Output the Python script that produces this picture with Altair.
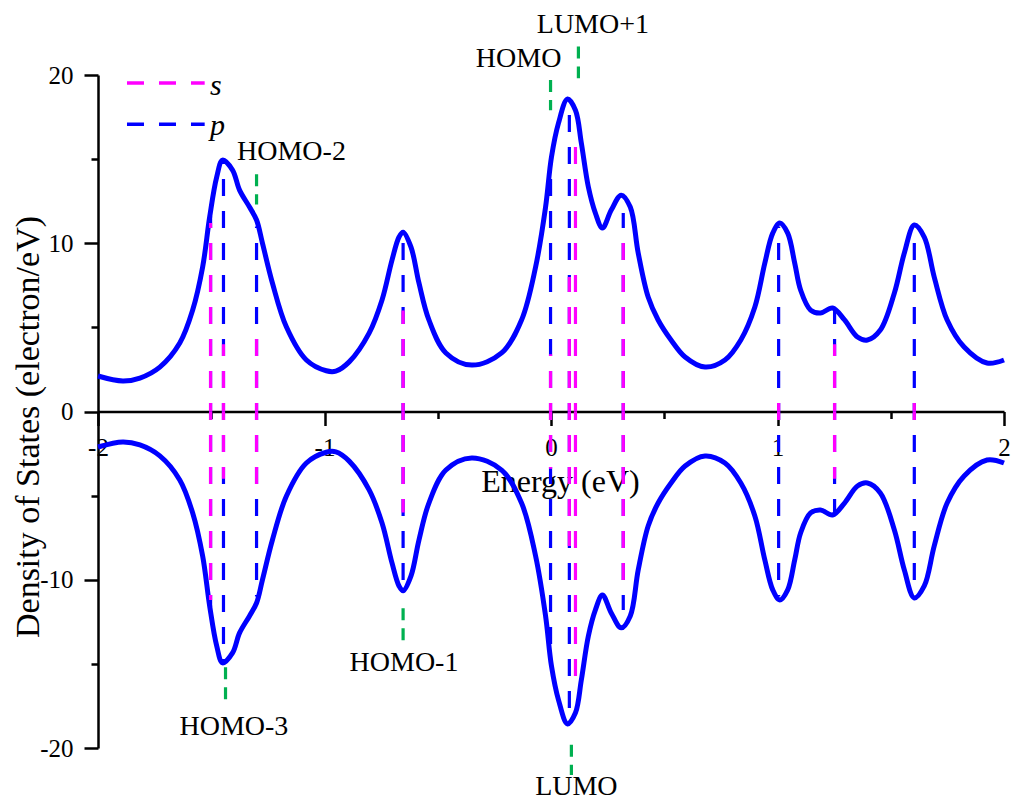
import altair as alt
import pandas as pd

# ---------------- data ----------------
energy = [-2.0, -1.89, -1.815, -1.727, -1.639, -1.582, -1.538, -1.507, -1.476, -1.45,
          -1.406, -1.375, -1.331, -1.30, -1.274, -1.23, -1.168, -1.08, -0.992, -0.95,
          -0.891, -0.803, -0.746, -0.702, -0.671, -0.653, -0.618, -0.583, -0.539, -0.464,
          -0.35, -0.218, -0.13, -0.068, -0.024, 0.002, 0.033, 0.073, 0.108, 0.134,
          0.165, 0.196, 0.227, 0.266, 0.31, 0.35, 0.385, 0.429, 0.473, 0.53,
          0.592, 0.68, 0.768, 0.838, 0.9, 0.944, 0.979, 1.01, 1.045, 1.076,
          1.102, 1.146, 1.19, 1.243, 1.296, 1.353, 1.397, 1.454, 1.516, 1.56,
          1.604, 1.648, 1.692, 1.749, 1.824, 1.925, 2.0]
dos_up = [2.11, 1.81, 1.99, 2.64, 4.07, 6.03, 8.59, 11.56, 13.93, 14.94,
          14.35, 13.16, 12.15, 11.38, 10.01, 7.64, 5.02, 3.06, 2.42, 2.4,
          2.95, 4.66, 6.63, 9.0, 10.37, 10.66, 9.77, 7.64, 5.44, 3.48,
          2.76, 3.48, 5.44, 8.59, 12.15, 15.12, 17.14, 18.57, 17.91, 15.95,
          13.34, 11.79, 10.9, 11.97, 12.86, 12.15, 9.42, 6.8, 5.44, 4.25,
          3.24, 2.64, 3.06, 4.25, 6.21, 8.82, 10.6, 11.2, 10.6, 8.82,
          7.22, 6.03, 5.85, 6.15, 5.44, 4.43, 4.25, 4.84, 7.04, 9.42,
          11.08, 10.37, 7.99, 5.44, 3.83, 2.88, 3.06]
dos_down = [-2.11, -1.81, -1.99, -2.64, -4.07, -6.03, -8.59, -11.56, -13.93, -14.94,
            -14.35, -13.16, -12.15, -11.38, -10.01, -7.64, -5.02, -3.06, -2.42, -2.4,
            -2.95, -4.66, -6.63, -9.0, -10.37, -10.66, -9.77, -7.64, -5.44, -3.48,
            -2.76, -3.48, -5.44, -8.59, -12.15, -15.12, -17.14, -18.57, -17.91, -15.95,
            -13.34, -11.79, -10.9, -11.97, -12.86, -12.15, -9.42, -6.8, -5.44, -4.25,
            -3.24, -2.64, -3.06, -4.25, -6.21, -8.82, -10.6, -11.2, -10.6, -8.82,
            -7.22, -6.03, -5.85, -6.15, -5.44, -4.43, -4.25, -4.84, -7.04, -9.42,
            -11.08, -10.37, -7.99, -5.44, -3.83, -2.88, -3.06]

# p-orbital sticks
p_energy = [-1.503, -1.446, -1.300, -0.653, -0.002, 0.081, 0.319, 1.005, 1.252, 1.604]
p_up = [11.6, 14.9, 11.0, 10.6, 14.5, 18.2, 11.8, 11.0, 6.1, 10.5]
p_down = [-11.6, -14.9, -11.0, -10.6, -14.5, -18.2, -11.8, -11.0, -6.1, -10.5]
# s-orbital sticks
s_energy = [-1.503, -1.446, -1.300, -0.653, -0.002, 0.081, 0.108, 0.319, 1.005, 1.252, 1.604]
s_up = [11.2, 4.0, 5.0, 6.0, 3.4, 8.0, 16.5, 10.7, 0.6, 4.0, 1.0]
s_down = [-11.2, -4.0, -5.0, -6.0, -3.4, -8.0, -16.5, -10.7, -0.6, -4.0, -1.0]

# orbital markers (green dotted) and their labels
orb_names = ["HOMO-2", "HOMO", "LUMO+1", "HOMO-3", "HOMO-1", "LUMO"]
orb_energy = [-1.300, -0.002, 0.121, -1.437, -0.653, 0.090]
orb_from = [14.1, 19.7, 21.7, -15.2, -11.7, -19.8]
orb_to = [12.3, 17.9, 19.8, -17.4, -13.8, -21.6]
orb_label_x = [-1.146, -0.143, 0.185, -1.40, -0.649, 0.112]
orb_label_y = [15.4, 20.95, 23.0, -18.73, -14.93, -22.3]

# legend
legend_names = ["s", "p"]
legend_colors = ["#ff00ff", "#0000ff"]
legend_y = [19.52, 17.08]
legend_label_y = [18.8, 16.45]
legend_x0 = [-1.872, -1.872]
legend_x1 = [-1.529, -1.529]
legend_label_x = [-1.505, -1.505]

x_major = [-2, -1, 0, 1, 2]
x_minor = [-1.5, -0.5, 0.5, 1.5]
y_major = [-20, -10, 0, 10, 20]
y_minor = [-15, -5, 5, 15]

# ---------------- tables ----------------
n = len(energy)
curve_df = pd.DataFrame({"x": energy + energy, "y": dos_up + dos_down,
                         "spin": ["up"] * n + ["down"] * n})

def stick_table(es, ups, downs):
    m = len(es)
    return pd.DataFrame({"x": es + es, "y": [0.0] * (2 * m), "y1": ups + downs})

p_df = stick_table(p_energy, p_up, p_down)
s_df = stick_table(s_energy, s_up, s_down)
orb_df = pd.DataFrame({"x": orb_energy, "y": orb_from, "y1": orb_to})
orb_lab_df = pd.DataFrame({"x": orb_label_x, "y": orb_label_y, "label": orb_names})
leg_df = pd.DataFrame({"x": legend_x0, "x1": legend_x1, "y": legend_y,
                       "name": legend_names, "color": legend_colors})
leg_lab_df = pd.DataFrame({"x": legend_label_x, "y": legend_label_y, "name": legend_names})
minor_df = pd.DataFrame({"x": x_minor, "y": y_minor})

FONT = "Liberation Serif"
XOFF = -336.5

def xs():
    return alt.Scale(domain=[-2, 2], nice=False, zero=False)

def ys():
    return alt.Scale(domain=[-20, 20], nice=False, zero=False)

x_axis = alt.Axis(
    values=x_major, orient="bottom",
    labelExpr="'' + datum.value",
    tickSize=14, offset=XOFF,
    grid=False, domainColor="black", domainWidth=2.5, tickColor="black", tickWidth=2.5,
    labelFont=FONT, labelFontSize=25, labelColor="black", labelPadding=10,
    labelFlush=False, labelOverlap=False,
    title="Energy (eV)", titleFont=FONT, titleFontSize=32, titleFontWeight="normal",
    titleColor="black", titleX=462, titleY=80, titleBaseline="alphabetic", titleAlign="center",
)
y_axis = alt.Axis(
    values=y_major, orient="left",
    labelExpr="'' + datum.value",
    tickSize=14,
    grid=False, domainColor="black", domainWidth=2.5, tickColor="black", tickWidth=2.5,
    labelFont=FONT, labelFontSize=25, labelColor="black", labelPadding=11,
    labelFlush=False, labelOverlap=False,
    title="Density of States (electron/eV)", titleFont=FONT, titleFontSize=34,
    titleFontWeight="normal", titleColor="black", titleX=-60, titleY=351.5,
    titleBaseline="alphabetic", titleAlign="center", titleAngle=270,
)
x_minor_axis = alt.Axis(
    values=x_minor, orient="bottom", offset=XOFF, labels=False, domain=False,
    tickSize=7, tickColor="black", tickWidth=2.5, grid=False, title=None,
)
y_minor_axis = alt.Axis(
    values=y_minor, orient="left", labels=False, domain=False,
    tickSize=7, tickColor="black", tickWidth=2.5, grid=False, title=None,
)

def X():
    return alt.X("x:Q", scale=xs(), axis=None)

def Y():
    return alt.Y("y:Q", scale=ys(), axis=None)

curve = alt.Chart(curve_df).mark_line(
    color="#0000ff", strokeWidth=5, interpolate="catmull-rom"
).encode(
    x=alt.X("x:Q", scale=xs(), axis=x_axis),
    y=alt.Y("y:Q", scale=ys(), axis=y_axis),
    detail="spin:N",
)

minor_ticks = alt.Chart(minor_df).mark_point(opacity=0).encode(
    x=alt.X("x:Q", scale=xs(), axis=x_minor_axis),
    y=alt.Y("y:Q", scale=ys(), axis=y_minor_axis),
)

DASH = [17, 15]
p_rules = alt.Chart(p_df).mark_rule(
    color="#0000ff", strokeWidth=3.2, strokeDash=DASH, strokeDashOffset=8.5
).encode(x=X(), y=Y(), y2="y1:Q")
s_rules = alt.Chart(s_df).mark_rule(
    color="#ff00ff", strokeWidth=3.2, strokeDash=DASH, strokeDashOffset=8.5
).encode(x=X(), y=Y(), y2="y1:Q")

orb_rules = alt.Chart(orb_df).mark_rule(
    color="#00b050", strokeWidth=3.2, strokeDash=[12, 8]
).encode(x=X(), y=Y(), y2="y1:Q")
orb_text = alt.Chart(orb_lab_df).mark_text(
    font=FONT, fontSize=28, color="black", align="center", baseline="middle"
).encode(x=X(), y=Y(), text="label:N")

leg_rules = alt.Chart(leg_df).mark_rule(strokeWidth=3.5, strokeDash=DASH).encode(
    x=X(), x2="x1:Q", y=Y(),
    color=alt.Color("color:N", scale=None, legend=None),
)
leg_text = alt.Chart(leg_lab_df).mark_text(
    font=FONT, fontSize=30, fontStyle="italic", color="black", align="left",
    baseline="alphabetic"
).encode(x=X(), y=Y(), text="name:N")

chart = alt.layer(
    curve, minor_ticks, p_rules, s_rules, orb_rules, orb_text, leg_rules, leg_text
).resolve_scale(
    x="independent", y="independent"
).properties(
    width=906, height=673,
    autosize=alt.AutoSizeParams(type="none"),
    padding={"left": 90, "top": 67, "right": 8, "bottom": 56},
    background="white",
).configure_view(stroke=None)

chart.save("out.html", embed_options={"renderer": "svg", "actions": False})
